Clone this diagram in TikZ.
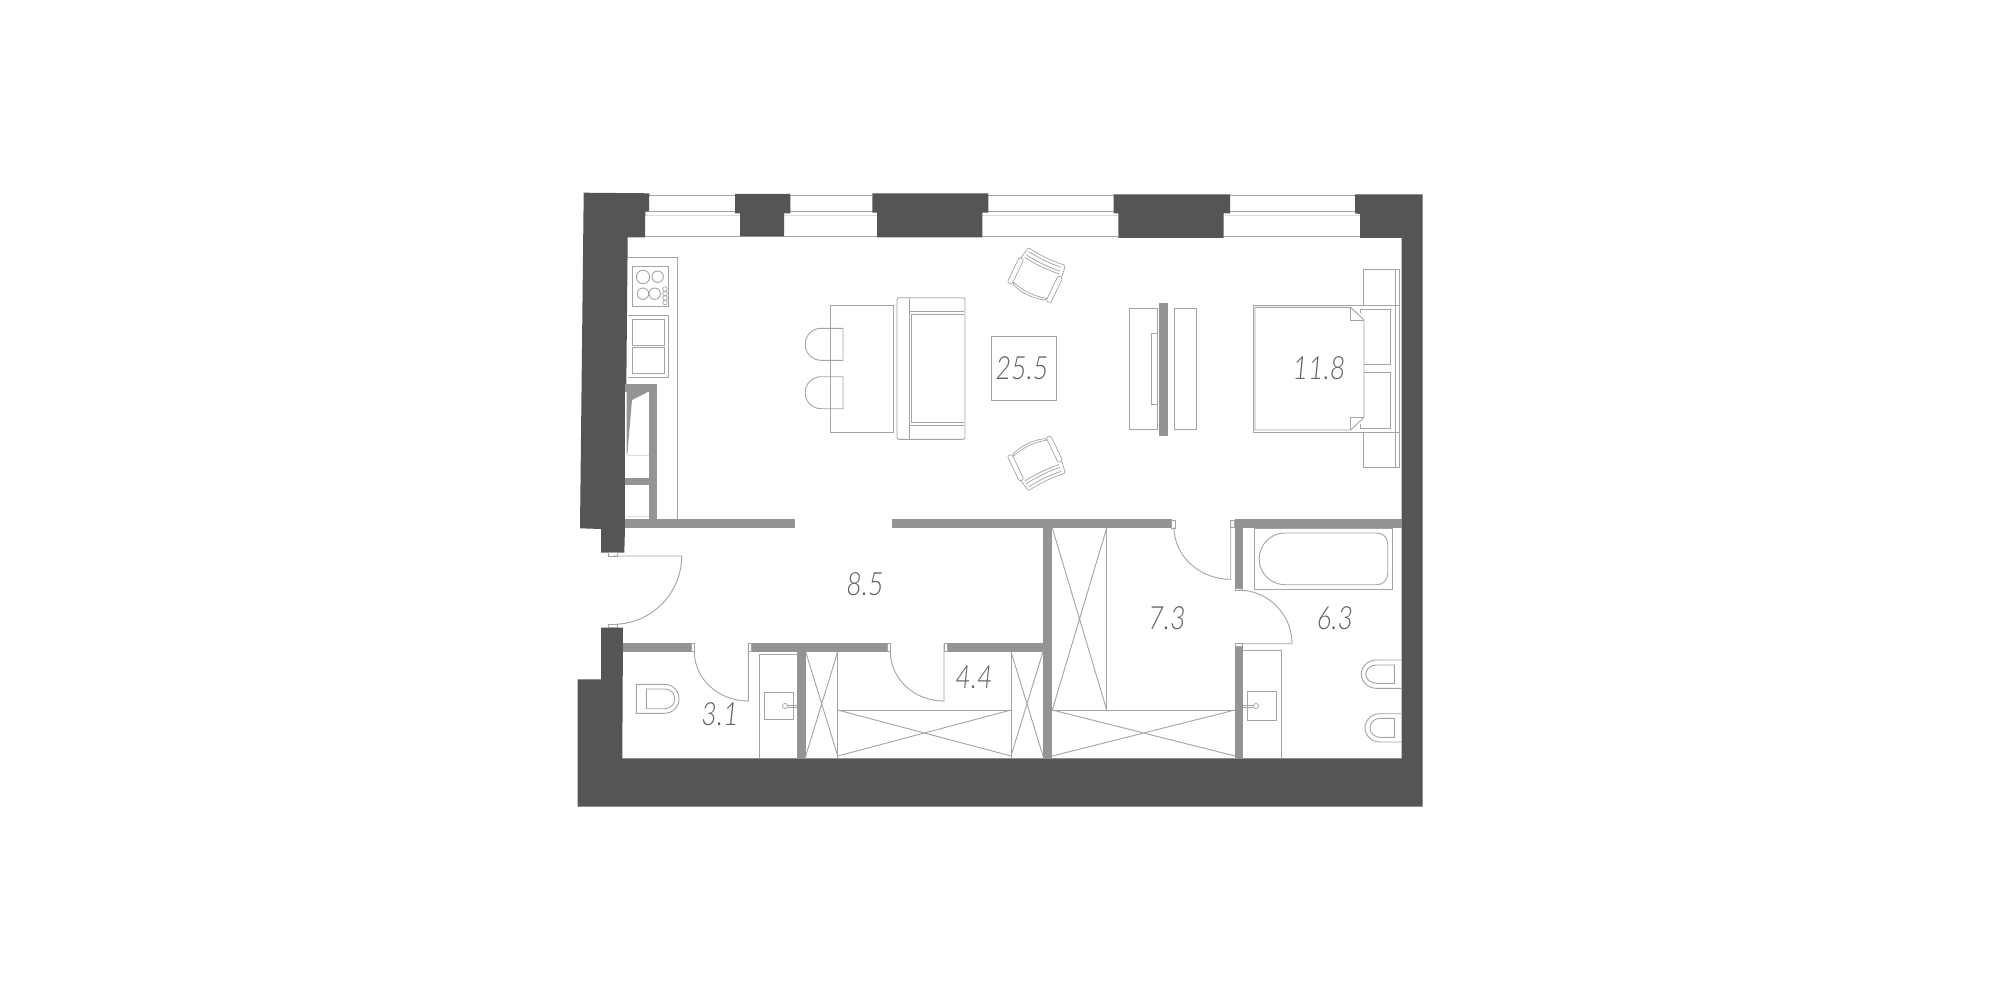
\documentclass[tikz,border=0pt]{standalone}
\usepackage{fontspec}
\newfontfamily\roomfont{Lato Light Italic}
\definecolor{wallcol}{HTML}{545556}
\definecolor{partcol}{HTML}{939495}
\definecolor{linecol}{HTML}{A3A4A5}
\definecolor{palecol}{HTML}{DCDDDE}
\definecolor{textcol}{HTML}{626366}
\tikzset{
   wall/.style={fill=wallcol},
   part/.style={fill=partcol},
   fur/.style={draw=linecol,line width=0.9pt},
   pale/.style={draw=palecol,line width=1pt},
   jamb/.style={draw=linecol,line width=0.7pt,fill=white},
   room/.style={font=\roomfont\fontsize{32}{32}\selectfont,text=textcol,xscale=0.84,inner sep=0pt}
}
\begin{document}
\begin{tikzpicture}[x=1pt,y=-1pt]
   \useasboundingbox (0,0) rectangle (2000,1003);
   \fill[white] (0,0) rectangle (2000,1003);
   % windows
   \draw[fur] (649,195) -- (735,195) (790,195) -- (872,195) (988,195) -- (1114,195) (1230,195) -- (1355,195);
   \draw[fur] (645,211.3) -- (740,211.3) (784,211.3) -- (877,211.3) (982,211.3) -- (1118,211.3) (1224,211.3) -- (1360,211.3);
   \draw[pale] (645,215.3) -- (740,215.3) (784,215.3) -- (877,215.3) (982,215.3) -- (1118,215.3) (1224,215.3) -- (1360,215.3);
   \draw[fur] (645,236.5) -- (740,236.5) (784,236.5) -- (877,236.5) (982,236.5) -- (1118,236.5) (1224,236.5) -- (1360,236.5);
   % outer walls
   \fill[wall] (583.7,192.7) -- (649.3,193.3) -- (649,211) -- (645.3,211.7) -- (645,237.3) -- (627.7,237.3)
      -- (625,527.5) -- (624.3,552.7) -- (601,552.7) -- (601,529) -- (580,528.3) -- cycle;
   \fill[wall] (735,194) -- (790.3,194) -- (790.3,213.3) -- (784,213.3) -- (784,236.7) -- (740,236.7) -- (740,213.3) -- (735,213.3) -- cycle;
   \fill[wall] (872.3,193.3) -- (988.3,193.3) -- (988.3,212.7) -- (982.3,212.7) -- (982.3,237.3) -- (877,237.3) -- (877,212.7) -- (872.3,212.7) -- cycle;
   \fill[wall] (1113.7,194.3) -- (1230,194.3) -- (1230,213.3) -- (1223.7,213.3) -- (1223.7,238) -- (1118.3,238) -- (1118.3,213.3) -- (1113.7,213.3) -- cycle;
   \fill[wall] (1355,194.3) -- (1422.5,194.3) -- (1422.7,806.7) -- (577.7,806.7) -- (577.7,679.3) -- (601,679.3) -- (601,627.7) -- (623,627.7)
      -- (622.3,758.3) -- (1401.7,758.3) -- (1401.5,238) -- (1360,238) -- (1360,214) -- (1355,213.3) -- cycle;
   % kitchen niche
   \fill[part] (625,384.3) rectangle (657,527.5);
   \fill[white] (625,391.7) rectangle (649.3,519);
   \fill[part] (626.5,391.7) -- (648.3,391.7) -- (632,400) -- (627.3,454.5) -- (626.5,454.5) -- cycle;
   \fill[part] (625,478.3) rectangle (649.3,484.5);
   \draw[pale] (627,455) -- (649.3,455);
   \draw[pale] (625.5,516) -- (649,516);
   % partitions
   \fill[part] (625,519) rectangle (794.7,527.5);
   \fill[part] (891.7,519.3) rectangle (1171.7,528);
   \fill[part] (1235,519.3) rectangle (1401.7,527.5);
   \fill[part] (1235,519.3) rectangle (1243.3,588.3);
   \fill[part] (1235,646.7) rectangle (1243.3,758.3);
   \fill[part] (1043,519.3) rectangle (1052,758.3);
   \fill[part] (947.3,642.7) rectangle (1043,651.7);
   \fill[part] (751.7,642.7) rectangle (887.7,651.7);
   \fill[part] (623,642.7) rectangle (691.3,651.7);
   \fill[part] (797,642.7) rectangle (805.7,758.3);
   % door jambs
   \draw[jamb] (608.7,552.7) rectangle (617.7,556);
   \draw[jamb] (608.7,624.3) rectangle (617.7,627.7);
   \draw[jamb] (691.3,643.5) rectangle (694.3,651);
   \draw[jamb] (748.3,643.5) rectangle (751.7,651);
   \draw[jamb] (887.7,643.5) rectangle (890.3,651);
   \draw[jamb] (944,643.5) rectangle (947.3,651);
   \draw[jamb] (1171.7,520.5) rectangle (1175,528);
   \draw[jamb] (1230.7,520.5) rectangle (1234.3,527.5);
   \draw[jamb] (1235,588) rectangle (1242.5,590);
   \draw[jamb] (1235,643.7) rectangle (1242.5,646.7);
   % door leaves
   \draw[fur] (613.3,624.3) arc[start angle=90,end angle=0,x radius=68.4,y radius=68.3] -- (613.3,556);
   \draw[fur] (694.3,651.7) arc[start angle=180,end angle=90,x radius=54,y radius=49.3] -- (748.3,644);
   \draw[fur] (890.3,651.7) arc[start angle=180,end angle=90,x radius=53.7,y radius=49.3] -- (944,644);
   \draw[fur] (1174,527.3) arc[start angle=180,end angle=90,x radius=56.7,y radius=52] -- (1230.7,521);
   \draw[fur] (1238,590) arc[start angle=-90,end angle=0,x radius=54,y radius=53.7] -- (1238,643.7);
   % kitchen
   \draw[fur] (627.7,257.3) -- (677.3,257.3) -- (677.3,519);
   \draw[fur] (632.3,266.3) rectangle (668,306.3);
   \draw[fur] (643,277) circle(6.7);
   \draw[fur] (657.7,276.7) circle(5.7);
   \draw[fur] (643,293.7) circle(5.7);
   \draw[fur] (654.7,293.7) circle(5.7);
   \foreach \knoby in {289,293.5,298,302.5}
      \draw[fur,line width=0.7pt] (665,\knoby) circle(2.3);
   \draw[fur] (627.7,315.7) -- (668.7,315.7) -- (668.7,377) -- (627.7,377);
   \draw[fur] (632.3,319.3) rectangle (664.3,345);
   \draw[fur] (632.3,347.3) rectangle (664.3,373.3);
   % table and stools
   \draw[fur] (830,305) rectangle (893.7,432.3);
   \foreach \stooly in {328.3,376.7}
      \draw[fur] (843,\stooly) -- (821,\stooly) arc[start angle=-90,end angle=-180,radius=15.8]
         -- (805.2,\stooly+16.2) arc[start angle=180,end angle=90,radius=15.8] -- (843,\stooly+32) -- cycle;
   % sofa
   \draw[fur,rounded corners=2] (897,297.7) rectangle (965,439.3);
   \draw[fur] (909,297.7) -- (909,439.3);
   \draw[fur] (909,311.7) -- (964,311.7) (911.7,314) -- (964,314);
   \draw[fur] (909,425) -- (964,425) (911.7,422.7) -- (964,422.7);
   \draw[fur] (911.7,314) -- (911.7,422.7);
   % low table
   \draw[fur] (991.7,336.7) rectangle (1056,400.3);
   % armchairs
   \foreach \chairy/\chairflip/\chairturn in {276.5/1/-25.7,462/-1/25.7} {
      \begin{scope}[shift={(1036.7,\chairy)},rotate=\chairturn,yscale=\chairflip]
         \draw[fur,line width=0.7pt,rounded corners=1.5] (-22.5,-9) -- (-20,-22.5) .. controls (-8,-20.5) and (8,-20.5) .. (21,-22.5) -- (23,-9);
         \draw[fur,line width=0.7pt] (-18,-19) .. controls (-8,-17.5) and (8,-17.5) .. (18,-19);
         \draw[fur,line width=0.7pt] (-19,-15) .. controls (-8,-13.5) and (8,-13.5) .. (19,-15);
         \draw[fur,line width=0.7pt] (-19,-12) .. controls (-8,-10.5) and (8,-10.5) .. (19,-12);
         \draw[fur,line width=0.7pt,rounded corners=2] (-19,15) -- (-19,17) .. controls (-6,21.5) and (6,21.5) .. (19,17) -- (19,15);
         \draw[fur,line width=0.7pt] (-18,15.5) .. controls (-6,19) and (6,19) .. (18,15.5);
         \draw[fur,line width=0.7pt,rounded corners=2] (-24,-10) rectangle (-19,18);
         \draw[fur,line width=0.7pt,rounded corners=2] (19,-10) rectangle (24,18);
      \end{scope}
   }
   % media wall
   \draw[fur] (1129.3,308.3) rectangle (1157.7,429);
   \draw[fur] (1174,308.3) rectangle (1196,429);
   \draw[fur] (1151.3,333.3) rectangle (1157,404.3);
   \fill[part] (1159.3,303.3) rectangle (1167.7,435.7);
   % bed
   \draw[fur] (1399.3,305.3) -- (1253.3,305.3) -- (1253.3,432.3) -- (1399.3,432.3);
   \draw[fur] (1350.7,307.3) -- (1255,307.3) -- (1255,430) -- (1350.7,430) -- (1364,417.3) -- (1364,320) -- cycle;
   \draw[fur] (1350.7,307.3) -- (1350.7,320) -- (1364,320);
   \draw[fur] (1350.7,430) -- (1350.7,417.3) -- (1364,417.3);
   \draw[fur] (1360.7,313) -- (1360.7,309.3) -- (1390.7,309.3) -- (1390.7,364.3) -- (1364,364.3);
   \draw[fur] (1364,372.3) -- (1390.7,372.3) -- (1390.7,428) -- (1360.7,428) -- (1360.7,424);
   \draw[fur] (1363.7,305.3) -- (1363.7,269.3) -- (1399.3,269.3) -- (1399.3,467.3) -- (1363.7,467.3) -- (1363.7,432.3);
   \draw[fur] (1395,269.3) -- (1395,467.3);
   % closets
   \draw[fur] (837.7,651.7) -- (837.7,758.3) (1011,651.7) -- (1011,758.3);
   \draw[fur] (837.7,710) -- (1011,710);
   \draw[fur] (805.7,651.7) -- (837.7,756) (837.7,651.7) -- (805.7,756);
   \draw[fur] (1011,651.7) -- (1043,756) (1043,651.7) -- (1011,756);
   \draw[fur] (837.7,710) -- (1011,756) (837.7,756) -- (1011,710);
   \draw[fur] (1106.7,528) -- (1106.7,710) (1052,710) -- (1235,710);
   \draw[fur] (1052.3,528) -- (1106.7,710) (1106.7,528) -- (1052.3,710);
   \draw[fur] (1052.3,710) -- (1235,756) (1052.3,756) -- (1235,710);
   % basins
   \draw[fur] (759.3,758.3) -- (759.3,654.3) -- (797,654.3);
   \draw[fur] (764,692.3) rectangle (793.7,719.3);
   \draw[fur,line width=0.7pt] (785,706) circle(2.6);
   \draw[fur,line width=0.7pt] (787.6,705) -- (797,705) (787.6,707) -- (797,707);
   \draw[fur] (1243.3,650.7) -- (1281.7,650.7) -- (1281.7,758.3);
   \draw[fur] (1247.3,691.3) rectangle (1276.7,720.3);
   \draw[fur,line width=0.7pt] (1256,706) circle(2.6);
   \draw[fur,line width=0.7pt] (1243.3,705) -- (1253.4,705) (1243.3,707) -- (1253.4,707);
   % bath
   \draw[fur] (1254.3,528.3) rectangle (1392.7,589.3);
   \draw[fur] (1285,533) -- (1377,533) arc[start angle=-90,end angle=0,radius=10.7] -- (1387.7,574)
      arc[start angle=0,end angle=90,radius=10.7] -- (1285,584.7) arc[start angle=90,end angle=270,radius=25.85] -- cycle;
   % toilets
   \draw[fur] (636.3,684.3) -- (664.5,684.3) arc[start angle=-90,end angle=90,x radius=14.5,y radius=14.5] -- (636.3,713.3) -- cycle;
   \draw[fur] (646.3,689) -- (665,689) arc[start angle=-90,end angle=90,x radius=9.8,y radius=9.85] -- (646.3,708.7) -- cycle;
   \draw[fur] (1401.7,660) -- (1376.5,660) arc[start angle=-90,end angle=-270,x radius=15.2,y radius=14.15] -- (1401.7,688.3);
   \draw[fur] (1394.3,665) -- (1376.5,665) arc[start angle=-90,end angle=-270,x radius=10.8,y radius=9.15] -- (1394.3,683.3) -- cycle;
   \draw[fur] (1401.7,713.7) -- (1380,713.7) arc[start angle=-90,end angle=-270,x radius=15,y radius=14.15] -- (1401.7,742);
   \draw[fur] (1394.3,718.3) -- (1380,718.3) arc[start angle=-90,end angle=-270,x radius=10,y radius=9.5] -- (1394.3,737.3) -- cycle;
   % areas
   \node[room] (area_living) at (1022,368) {25.5};
   \node[room] (area_bed) at (1319,368) {11.8};
   \node[room] (area_hall) at (865,584) {8.5};
   \node[room] (area_store) at (974,677) {4.4};
   \node[room] (area_wc) at (720,714) {3.1};
   \node[room] (area_dress) at (1167,618) {7.3};
   \node[room] (area_bath) at (1335,618) {6.3};
\end{tikzpicture}
\end{document}
